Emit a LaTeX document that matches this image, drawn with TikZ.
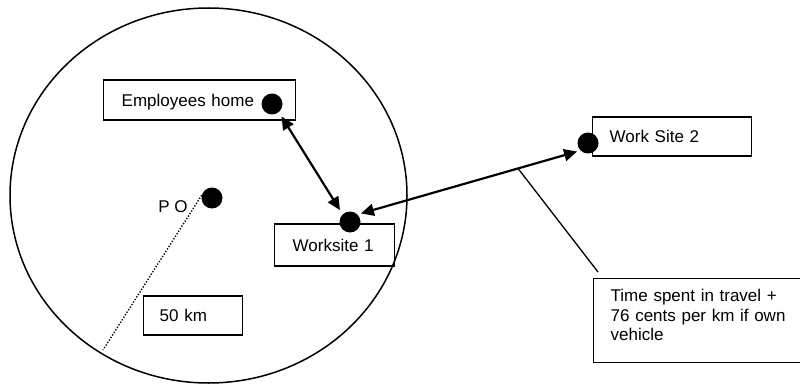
\documentclass[tikz,border=0pt]{standalone}
\usepackage{fontspec}
\setmainfont{Liberation Sans}
\usetikzlibrary{arrows.meta,calc}
\begin{document}
\begin{tikzpicture}[x=1pt,y=-1pt,
  every node/.style={font=\fontsize{17pt}{19.5pt}\selectfont},
  place/.style={draw, line width=1.4pt, rectangle, anchor=west, align=left,
    inner ysep=0pt, text height=12.2pt, text depth=0pt},
  spot/.style={circle, fill=black, inner sep=0pt, minimum size=21pt},
  trip/.style={line width=2.2pt,
    {Triangle[length=13pt,width=12pt]}-{Triangle[length=13pt,width=12pt]}},
  radius line/.style={line width=1.4pt, dash pattern=on 1.3pt off 1.7pt},
  callout/.style={line width=1.3pt}
]
\useasboundingbox (0,0) rectangle (800,385);

% 50 km zone round the post office
\draw[line width=1.5pt] (208.5,195.5) ellipse [x radius=198.5pt, y radius=187.5pt];

% labelled places
\node[place, minimum height=40pt, inner xsep=18pt, text width=156pt] (home) at (103,100) {Employees home};
\node[place, minimum height=42pt, inner xsep=18pt, text width=84pt] (ws1) at (274,245) {Worksite 1};
\node[place, minimum height=39pt, inner xsep=17pt, text width=125pt] (ws2) at (592,136.5) {Work Site 2};
\node[place, minimum height=39pt, inner xsep=16pt, text width=67pt] (km) at (143,315.5) {50 km};
\node[place, anchor=north west, inner xsep=17pt, inner ysep=10pt, text width=183pt,
      text height=13pt, text depth=51pt] (note) at (593,278)
  {\makebox[183pt][s]{Time spent in travel +}\\
   \makebox[183pt][s]{76 cents per km if own}\\
   vehicle};

% location dots
\node[spot] (hdot) at (272,104) {};
\node[spot] (w1dot) at (350,222) {};
\node[spot] (w2dot) at (588,143) {};
\node[spot] (podot) at (212,198) {};
\node (po) at (173,207) {P O};

% radius of the zone
\coordinate (rim) at (103,350);
\draw[radius line] (podot.165) -- (rim);

% journeys
\draw[trip, shorten <=5pt, shorten >=5pt] (hdot.-50) -- (w1dot.134);
\draw[trip, shorten <=3.5pt, shorten >=3.5pt] (w1dot.45) -- (w2dot.225);

% note on the long journey
\coordinate (tap) at ($(w1dot.45)!0.72!(w2dot.225)$);
\draw[callout] (tap) -- ([shift={(5pt,6pt)}]note.north west);
\end{tikzpicture}
\end{document}
